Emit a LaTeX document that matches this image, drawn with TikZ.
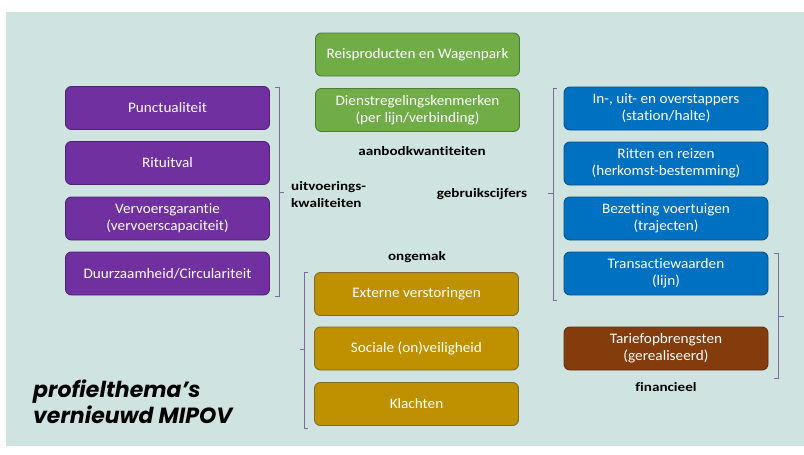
\documentclass[tikz,border=0pt]{standalone}
\usepackage{fontspec}
\setmainfont{Carlito}[Ligatures=NoCommon]
\newfontfamily\boxfont{Carlito}[FakeStretch=1.05,Ligatures=NoCommon]
\newfontfamily\lblfont{Carlito}[FakeStretch=1.18,Ligatures=NoCommon]
\newfontfamily\titlefont{Poppins}
\definecolor{bgmint}{HTML}{CFE4E1}
\definecolor{gfill}{HTML}{70AD47}\definecolor{gline}{HTML}{4F7A33}
\definecolor{pfill}{HTML}{7030A0}\definecolor{pline}{HTML}{4E2272}
\definecolor{bfill}{HTML}{0070C0}\definecolor{bline}{HTML}{0A5288}
\definecolor{ofill}{HTML}{BF9000}\definecolor{oline}{HTML}{7F6A2A}
\definecolor{rfill}{HTML}{843C0C}\definecolor{rline}{HTML}{5E2E12}
\definecolor{brk}{HTML}{7B6A9A}
\begin{document}
\begin{tikzpicture}[x=1pt,y=-1pt,
  box/.style={draw, line width=0.9pt, rounded corners=6pt, minimum width=204pt,
    minimum height=43pt, align=center, text=white, inner sep=0pt,
    font=\boxfont\fontsize{14.5}{17}\selectfont},
  gbox/.style={box, fill=gfill, draw=gline},
  pbox/.style={box, fill=pfill, draw=pline},
  bbox/.style={box, fill=bfill, draw=bline},
  obox/.style={box, fill=ofill, draw=oline},
  rbox/.style={box, fill=rfill, draw=rline},
  lbl/.style={font=\lblfont\bfseries\fontsize{12.8}{17}\selectfont, text=black, inner sep=0pt},
  brace/.style={draw=brk, line width=0.8pt}]
\useasboundingbox (0,0) rectangle (804,455);
\fill[white] (0,0) rectangle (804,455);
\fill[bgmint] (6,12) rectangle (804,446);

% green
\node[gbox] (reis) at (417.5,54.5) {Reisproducten en Wagenpark};
\node[gbox] (dienst) at (417.5,110) {Dienstregelingskenmerken\\(per lijn/verbinding)};
\node[lbl] (aanbod) at (422,151) {aanbodkwantiteiten};

% purple
\node[pbox] (punct) at (167.5,108) {Punctualiteit};
\node[pbox] (ritu) at (167.5,163) {Rituitval};
\node[pbox] (verv) at (167.5,218.5) {Vervoersgarantie\\(vervoerscapaciteit)};
\node[pbox] (duur) at (167.5,273.5) {Duurzaamheid/Circulariteit};
\node[lbl, align=left, anchor=west] (uitv) at (291,195) {uitvoerings-\\kwaliteiten};

% blue
\node[bbox] (inuit) at (666,108.5) {In-, uit- en overstappers\\(station/halte)};
\node[bbox] (ritten) at (666,163.5) {Ritten en reizen\\(herkomst-bestemming)};
\node[bbox] (bez) at (666,218.5) {Bezetting voertuigen\\(trajecten)};
\node[bbox] (trans) at (666,273.5) {Transactiewaarden\\(lijn)};
\node[lbl] (gebr) at (482,194) {gebruikscijfers};

% brown
\node[rbox] (tarief) at (666,348.5) {Tariefopbrengsten\\(gerealiseerd)};
\node[lbl] (fin) at (666,387) {financieel};

% gold
\node[lbl] (ong) at (417,257) {ongemak};
\node[obox] (ext) at (416.5,294) {Externe verstoringen};
\node[obox] (soc) at (416.5,348.5) {Sociale (on)veiligheid};
\node[obox] (klacht) at (416.5,404) {Klachten};

% brackets
\draw[brace] (275,87) -- (279,87) -- (279,296) -- (275,296);
\draw[brace] (279,192) -- (284,192);
\draw[brace] (557,88) -- (553,88) -- (553,300) -- (557,300);
\draw[brace] (553,193) -- (548,193);
\draw[brace] (308,272) -- (304,272) -- (304,428) -- (308,428);
\draw[brace] (304,349) -- (300,349);
\draw[brace] (774,253) -- (778,253) -- (778,378) -- (774,378);
\draw[brace] (778,316) -- (784,316);

% title
\node[anchor=west, align=left, inner sep=0pt,
  font=\titlefont\bfseries\itshape\fontsize{22}{25.5}\selectfont] (title) at (33,402)
  {profielthema’s\\vernieuwd MIPOV};
\end{tikzpicture}
\end{document}
